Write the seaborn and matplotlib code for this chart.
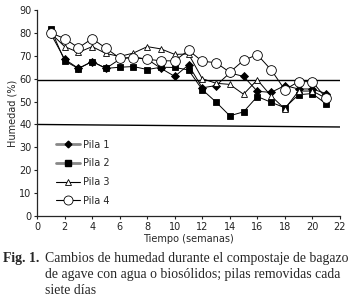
import matplotlib
matplotlib.use("Agg")
import matplotlib.pyplot as plt
from matplotlib.lines import Line2D
import seaborn as sns
import pandas as pd

semanas = list(range(1, 22))
pila1 = [79.5, 68.5, 64.5, 67.5, 64.5, 68.5, 69.5, 68.5, 64.5, 61.0, 66.0, 56.0, 57.0,
         62.5, 61.0, 54.5, 54.0, 57.0, 55.5, 55.5, 53.5]
pila2 = [81.5, 67.8, 64.4, 67.5, 64.5, 65.0, 65.3, 64.0, 65.0, 64.9, 63.8, 55.2, 49.8,
         43.8, 45.5, 52.2, 49.7, 47.3, 53.0, 53.5, 49.0]
pila3 = [79.8, 74.0, 71.5, 74.0, 71.0, 69.7, 71.2, 74.0, 73.0, 70.6, 70.8, 60.0, 58.0,
         57.5, 53.2, 59.5, 52.5, 46.8, 54.6, 54.6, 51.5]
pila4 = [80.0, 77.5, 73.5, 77.5, 73.3, 69.0, 69.2, 68.5, 67.8, 67.8, 72.4, 67.6, 67.0,
         62.8, 68.0, 70.5, 63.9, 55.2, 58.7, 58.7, 51.5]
series_names = ["Pila 1", "Pila 2", "Pila 3", "Pila 4"]
ref_upper = 59.6
ref_lower = [40.0, 38.9]
ref_x = [0, 22]

x_ticks = list(range(0, 23, 2))
y_ticks = list(range(0, 91, 10))

sns.set_style("ticks")
plt.rcParams["font.family"] = ["DejaVu Sans"]

fig = plt.figure(figsize=(3.54, 3.03), dpi=100)
ax = fig.add_axes([0.105, 0.287, 0.855, 0.680])

styles = {
    "Pila 1": dict(marker="D", mfc="black", ms=3.6),
    "Pila 2": dict(marker="s", mfc="black", ms=4.2),
    "Pila 3": dict(marker="^", mfc="white", ms=5.0),
    "Pila 4": dict(marker="o", mfc="white", ms=7.0),
}
data = {"Pila 1": pila1, "Pila 2": pila2, "Pila 3": pila3, "Pila 4": pila4}

for name in series_names:
    df = pd.DataFrame({"Semana": semanas, "Humedad": data[name]})
    st = styles[name]
    sns.lineplot(data=df, x="Semana", y="Humedad", ax=ax, color="black",
                 linewidth=0.7, marker=st["marker"], markersize=st["ms"],
                 markerfacecolor=st["mfc"], markeredgecolor="black",
                 markeredgewidth=0.6, legend=False, zorder=3)

ax.axhline(ref_upper, color="black", linewidth=1.0, zorder=2)
ax.plot(ref_x, ref_lower, color="black", linewidth=1.0, zorder=2)

ax.set_xlim(0, 22)
ax.set_ylim(0, 90)
ax.set_xticks(x_ticks)
ax.set_yticks(y_ticks)
ax.tick_params(labelsize=7, length=2.5, width=0.8, colors="#222222", pad=1.5)
for s in ["top", "right"]:
    ax.spines[s].set_visible(False)
for s in ["left", "bottom"]:
    ax.spines[s].set_linewidth(0.9)
ax.set_xlabel("Tiempo (semanas)", fontsize=7, labelpad=1.5)
ax.set_ylabel("Humedad (%)", fontsize=7, labelpad=1.5)

handles = [
    Line2D([], [], color="#888888", lw=2.0, marker="D", mfc="black", mec="black", ms=3.4),
    Line2D([], [], color="#888888", lw=2.0, marker="s", mfc="black", mec="black", ms=4.0),
    Line2D([], [], color="black", lw=0.8, marker="^", mfc="white", mec="black", ms=5.0, mew=0.6),
    Line2D([], [], color="black", lw=0.8, marker="o", mfc="white", mec="black", ms=6.5, mew=0.6),
]
ax.legend(handles, series_names, loc="upper left", bbox_to_anchor=(0.05, 0.39),
          frameon=False, fontsize=7, handlelength=2.5, handletextpad=0.3,
          labelspacing=0.9, borderaxespad=0)

serif = ["Liberation Serif", "DejaVu Serif"]
y0 = 0.146
dy = 0.052
fig.text(0.008, y0, "Fig. 1.", fontsize=9.9, fontweight="bold", family=serif,
         va="center", ha="left")
cap_lines = ["Cambios de humedad durante el compostaje de bagazo",
             "de agave con agua o biosólidos; pilas removidas cada",
             "siete días"]
for i, line in enumerate(cap_lines):
    fig.text(0.127, y0 - i * dy, line, fontsize=9.9, family=serif,
             va="center", ha="left")

fig.savefig("out.png", dpi=100)
